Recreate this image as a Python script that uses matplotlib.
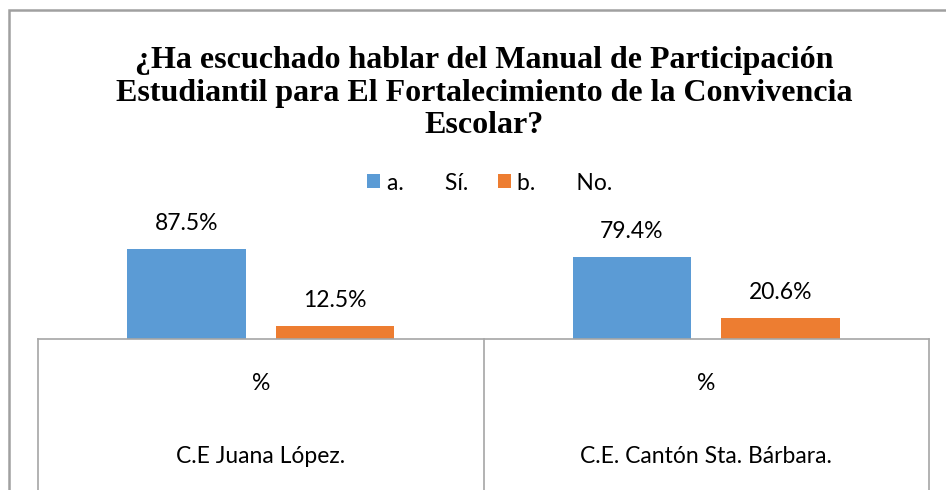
import matplotlib.pyplot as plt
import numpy as np
from matplotlib.patches import Rectangle

# chart data
schools = ["C.E Juana López.", "C.E. Cantón Sta. Bárbara."]
sub_label = "%"
series_names = ["a.       Sí.", "b.       No."]
si_vals = [87.5, 79.4]
no_vals = [12.5, 20.6]
colors = ["#5B9BD5", "#ED7D31"]

title = ("¿Ha escuchado hablar del Manual de Participación\n"
         "Estudiantil para El Fortalecimiento de la Convivencia\n"
         "Escolar?")

W, H = 946, 490
fig = plt.figure(figsize=(W / 100, H / 100), dpi=100)
fig.patch.set_facecolor("white")

# axes placement in pixels
ax_l, ax_r, ax_top, ax_bot = 38, 929, 236, 339
ax = fig.add_axes([ax_l / W, 1 - ax_bot / H, (ax_r - ax_l) / W, (ax_bot - ax_top) / H])

x = np.arange(len(schools))
bw = 0.267
off = 0.1667
lbl_font = "Lato"
fs = 16.5
for vals, name, c, sgn in [(si_vals, series_names[0], colors[0], -1),
                           (no_vals, series_names[1], colors[1], 1)]:
    bars = ax.bar(x + sgn * off, vals, width=bw, color=c, label=name)
    for b, v in zip(bars, vals):
        ax.text(b.get_x() + b.get_width() / 2, v + 25, "%.1f%%" % v,
                ha="center", va="center", fontsize=fs, family=lbl_font,
                clip_on=False)

ax.set_xlim(-0.5, 1.5)
ax.set_ylim(0, 100)
ax.set_yticks([])
ax.set_xticks([])
for s in ["top", "left", "right"]:
    ax.spines[s].set_visible(False)
ax.spines["bottom"].set_color("#A6A6A6")
ax.spines["bottom"].set_linewidth(1.2)
ax.patch.set_alpha(0)

# multi-level category labels below the axis
gray = "#A6A6A6"
for xv in [-0.5, 0.5, 1.5]:
    ax.plot([xv, xv], [0, -150], color=gray, lw=1.2, clip_on=False)
for i, name in enumerate(schools):
    ax.text(i, -43, sub_label, ha="center", va="center", fontsize=fs,
            family=lbl_font, clip_on=False)
    ax.text(i, -114, name, ha="center", va="center", fontsize=fs,
            family=lbl_font, clip_on=False)

# outer chart border
fig.add_artist(Rectangle((9 / W, -0.1), 1.2, 1 - 10 / H + 0.1,
                         transform=fig.transFigure, fill=False,
                         edgecolor="#A0A0A0", lw=1.8))

fig.text(484 / W, 1 - 93 / H, title, ha="center", va="center",
         fontsize=23, fontweight="bold", family="Liberation Serif",
         linespacing=1.14)

leg = fig.legend(loc="center", bbox_to_anchor=(490 / W, 1 - 183 / H),
                 ncol=2, frameon=False, prop={"family": lbl_font, "size": fs},
                 handlelength=0.55, handleheight=0.55, handletextpad=0.3,
                 columnspacing=1.3)

plt.savefig("out.png", dpi=100)
